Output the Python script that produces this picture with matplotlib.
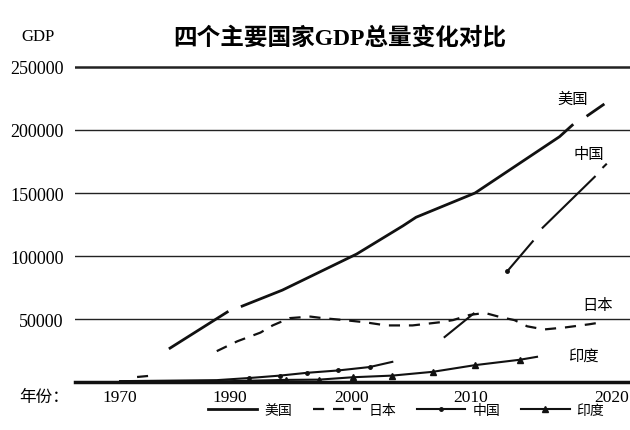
import numpy as np
import matplotlib
matplotlib.use('Agg')
import matplotlib.pyplot as plt

plt.rcParams['font.family'] = ['Liberation Serif', 'Noto Sans CJK SC']

# data (NaN = gap in the printed line)
us_years = [1979.1, 1989.5, np.nan, 1991.0, 1994.3, 2000.4, 2004.3, 2005.4, 2010.3, 2016.3, 2017.2, np.nan, 2018.3, 2019.4]
us_gdp = [27000, 55600, np.nan, 60300, 73000, 101600, 124000, 130800, 150000, 194700, 203800, np.nan, 211500, 220000]

jp_years = [1973.1, 1975.1, np.nan, 1987.6, 1990.6, 1992.5, 1993.5, 1994.9, 1996.6, 1997.6, 1999.4, 2001.1,
            2002.9, 2005.1, 2007.4, 2008.5, 2009.9, 2011.0, 2012.1, 2013.1, 2014.0, 2015.2, 2016.7, 2018.4, 2019.3]
jp_gdp = [4100, 4900, np.nan, 24600, 32400, 39300, 45000, 50800, 52000, 50800, 49200, 47500,
          45000, 45000, 47500, 49200, 53300, 54900, 51600, 49200, 44300, 41800, 43400, 45900, 47500]

cn_years = [1970, 1987.6, 1991.6, 1994.1, 1996.3, 1998.9, 2001.5, 2003.4, np.nan, 2007.8, 2010.2, np.nan,
            2012.6, 2014.4, np.nan, 2015.1, 2018.8, np.nan, 2019.4, 2019.6]
cn_gdp = [800, 1600, 3300, 5200, 7400, 9300, 12000, 16100, np.nan, 35800, 54400, np.nan,
          88100, 111700, np.nan, 122500, 162900, np.nan, 170500, 172700]

in_years = [1970, 1990, 1994.6, 1997.3, 2000.1, 2003.4, 2006.8, 2010.3, 2013.5, 2014.7]
in_gdp = [700, 800, 1800, 2000, 3900, 5200, 8200, 13500, 17800, 20100]

tick_years = [1970, 1990, 2000, 2010, 2020]
y_ticks = [50000, 100000, 150000, 200000, 250000]

# the printed year axis is not linear: relative spacing of the labelled years
knot_years = [1950, 1970, 1990, 2000, 2010, 2020, 2040]
knot_pos = [-110, 0, 110, 232, 351, 492, 774]

def fwd(x):
    return np.interp(x, knot_years, knot_pos)

def inv(p):
    return np.interp(p, knot_pos, knot_years)

fig = plt.figure(figsize=(6.3, 4.31), dpi=100)
ax = fig.add_axes([0.119, 0.111, 0.881, 0.746])
ax.set_xscale('function', functions=(fwd, inv))

ax.plot(us_years, us_gdp, color='#111111', lw=2.0, label='美国')
ax.plot(jp_years, jp_gdp, color='#111111', lw=1.6, ls=(0, (5, 4)), label='日本')
ax.plot(cn_years, cn_gdp, color='#111111', lw=1.5, marker='o', ms=2.5,
        markevery=[2, 3, 4, 5, 6, 12], label='中国')
ax.plot(in_years, in_gdp, color='#111111', lw=1.5, marker='^', ms=4.5,
        markevery=[2, 3, 4, 5, 6, 7, 8], label='印度')

for v in y_ticks:
    ax.axhline(v, color='#222222', lw=1.8 if v == 250000 else 1.0, zorder=0)

ax.set_xlim(1961.8, 2021.3)
ax.set_ylim(0, 255000)
ax.set_xticks(tick_years)
ax.set_xticklabels([str(y) for y in tick_years])
ax.set_yticks(y_ticks)
ax.set_yticklabels([str(v) for v in y_ticks])
ax.tick_params(axis='both', length=0)
ax.tick_params(axis='y', pad=8, labelsize=13)
ax.tick_params(axis='x', pad=5, labelsize=12.5)
for s in ['top', 'right', 'left']:
    ax.spines[s].set_visible(False)
ax.spines['bottom'].set_linewidth(2.5)
ax.spines['bottom'].set_color('#111111')

# line labels
ax.text(2017.2, 225000, '美国', fontsize=11, ha='center', va='center')
ax.text(2018.4, 181000, '中国', fontsize=11, ha='center', va='center')
ax.text(2019.0, 61000, '日本', fontsize=11, ha='center', va='center')
ax.text(2018.0, 20500, '印度', fontsize=11, ha='center', va='center')

fig.text(0.54, 0.912, '四个主要国家GDP总量变化对比', fontsize=17, fontweight='bold',
         ha='center', va='center')
fig.text(0.06, 0.914, 'GDP', fontsize=12, ha='center', va='center')
fig.text(0.03, 0.077, '年份：', fontsize=12, ha='left', va='center')

fig.legend(loc='center', bbox_to_anchor=(0.645, 0.045), ncol=4, frameon=False,
           fontsize=10, handlelength=3.5, columnspacing=1.5, handletextpad=0.5)

fig.savefig('out.png', dpi=100)
